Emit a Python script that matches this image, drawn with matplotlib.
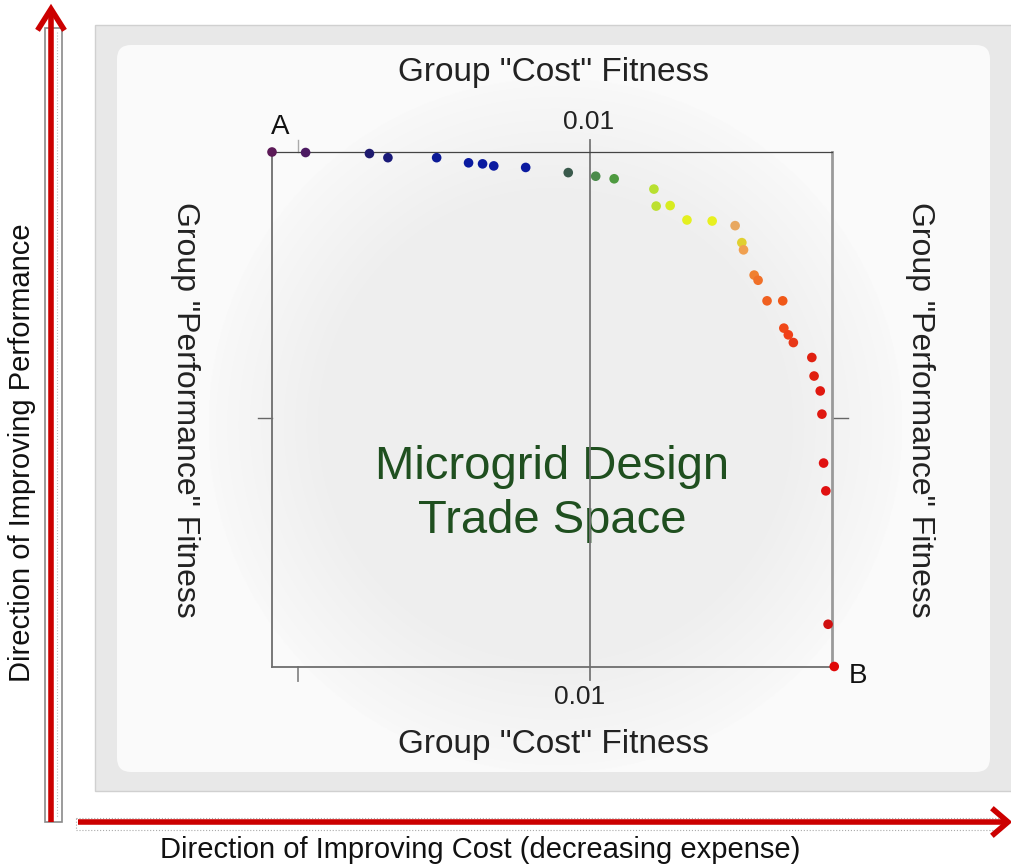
import matplotlib
matplotlib.use("Agg")
import matplotlib.pyplot as plt
import numpy as np
from matplotlib.patches import Rectangle, FancyBboxPatch

plt.rcParams['font.family'] = ['Liberation Sans', 'DejaVu Sans']

# Pareto front (normalised cost / performance fitness)
cost_fitness = [0.00, 0.06, 0.174, 0.207, 0.294, 0.351, 0.376, 0.396, 0.453, 0.529,
                0.578, 0.611, 0.682, 0.686, 0.711, 0.741, 0.786, 0.827, 0.839, 0.842,
                0.861, 0.868, 0.884, 0.912, 0.914, 0.922, 0.931, 0.964, 0.968, 0.979,
                0.982, 0.985, 0.989, 0.993, 1.004]
perf_fitness = [1.00, 0.999, 0.997, 0.989, 0.989, 0.979, 0.977, 0.973, 0.970, 0.960,
                0.953, 0.948, 0.928, 0.895, 0.896, 0.868, 0.866, 0.857, 0.824, 0.810,
                0.761, 0.751, 0.711, 0.711, 0.658, 0.645, 0.630, 0.601, 0.565, 0.536,
                0.491, 0.396, 0.342, 0.083, 0.001]
point_colors = ['#5c1a58', '#4c1a62', '#1e1a6e', '#1a1a78', '#0c1a96', '#0a1aa0', '#0a1aa0',
                '#0a1aa0', '#0a1aa0', '#3a5a4c', '#4a8a4a', '#4e9a40', '#b8e030', '#bce030',
                '#d8ec20', '#e4f020', '#e8f020', '#e8a860', '#e0d030', '#f0a050', '#f08030',
                '#f07028', '#f06020', '#f05818', '#f04818', '#f04018', '#e83818', '#e02010',
                '#e02010', '#e01810', '#e01810', '#e01010', '#e01010', '#d01010', '#e00808']

top_tick_label = "0.01"
bottom_tick_label = "0.01"
tick_pos = 0.568

W, H = 1011, 865
fig = plt.figure(figsize=(W / 100, H / 100), dpi=100)
bg = fig.add_axes([0, 0, 1, 1])
bg.set_xlim(0, W)
bg.set_ylim(H, 0)
bg.axis('off')

# panel background
bg.add_patch(Rectangle((95, 25), 920, 766, facecolor='#e8e8e8', edgecolor='#d0d0d0', lw=1))
bg.add_patch(FancyBboxPatch((117, 45), 873, 727, boxstyle="round,pad=0,rounding_size=14",
                            facecolor='#fafafa', edgecolor='none'))
yy, xx = np.mgrid[0:800, 0:800]
r = np.hypot(xx - 400, yy - 400) / 380
glow = np.clip(1 - r, 0, 1)
shade = 0.975 - 0.04 * np.clip(glow * 3, 0, 1)
rgba = np.dstack([shade, shade, shade, (r < 1).astype(float)])
bg.imshow(rgba, extent=(190, 920, 790, 60), zorder=1, interpolation='bilinear')

# axes with the design points
ax = fig.add_axes([272 / W, (H - 667) / H, 560 / W, 515 / H])
ax.patch.set_alpha(0)
ax.set_xlim(0, 1)
ax.set_ylim(0, 1)
for s in ax.spines.values():
    s.set_color('#6e6e6e')
    s.set_linewidth(1.3)
ax.spines['top'].set_color('#444444')
ax.spines['top'].set_linewidth(0.9)
ax.spines['right'].set_color('#9a9a9a')
ax.spines['right'].set_linewidth(2.0)
ax.set_xticks([])
ax.set_yticks([])
ax.axvline(tick_pos, color='#777777', lw=1.3, zorder=1)
ax.scatter(cost_fitness, perf_fitness, s=48, c=point_colors, edgecolors='none', zorder=3, clip_on=False)

# small ticks outside the box
bg.plot([298, 298], [667, 681], color='#888888', lw=1.3)
bg.plot([298, 298], [140, 152], color='#aaaaaa', lw=1.0)
bg.plot([258, 272], [418, 418], color='#666666', lw=1.0)
bg.plot([832, 848], [418, 418], color='#666666', lw=1.0)
bg.plot([590, 590], [140, 152], color='#777777', lw=1.3)
bg.plot([590, 590], [667, 680], color='#777777', lw=1.3)

bg.text(589, 122, top_tick_label, ha='center', va='center', fontsize=19, color='#222222')
bg.text(580, 697, bottom_tick_label, ha='center', va='center', fontsize=19, color='#222222')
bg.text(280, 127, "A", ha='center', va='center', fontsize=20, color='#111111')
bg.text(858, 676, "B", ha='center', va='center', fontsize=20, color='#111111')

bg.text(553, 73, 'Group "Cost" Fitness', ha='center', va='center', fontsize=24, color='#222222')
bg.text(553, 744, 'Group "Cost" Fitness', ha='center', va='center', fontsize=24, color='#222222')
bg.text(185, 410, 'Group "Performance" Fitness', ha='center', va='center', rotation=270,
        fontsize=23, color='#222222')
bg.text(920, 410, 'Group "Performance" Fitness', ha='center', va='center', rotation=270,
        fontsize=23, color='#222222')
bg.text(552, 494, "Microgrid Design\nTrade Space", ha='center', va='center', fontsize=34,
        color='#1f4f1f', linespacing=1.3, zorder=5)

# direction arrows
bg.add_patch(Rectangle((45, 28), 17, 794, facecolor='white', edgecolor='#8a8a8a', lw=1.2, zorder=2))
bg.plot([57, 57], [32, 818], color='#bbbbbb', lw=0.8, ls=':', zorder=3)
bg.plot([51, 51], [822, 12], color='#cc0000', lw=4, solid_capstyle='butt', zorder=4)
bg.plot([39, 51, 63], [28, 9, 28], color='#cc0000', lw=4, solid_joinstyle='miter', zorder=4)

bg.add_patch(Rectangle((76, 818), 925, 12, facecolor='white', edgecolor='#aaaaaa', lw=0.8,
                       ls=':', zorder=2))
bg.plot([78, 1006], [822, 822], color='#cc0000', lw=4, solid_capstyle='butt', zorder=4)
bg.plot([994, 1008, 994], [810, 822, 834], color='#cc0000', lw=4, solid_joinstyle='miter', zorder=4)

bg.text(22, 453, "Direction of Improving Performance", ha='center', va='center', rotation=90,
        fontsize=21, color='#111111')
bg.text(480, 850, "Direction of Improving Cost (decreasing expense)", ha='center', va='center',
        fontsize=21, color='#111111')

fig.savefig("out.png", dpi=100, facecolor='white')
